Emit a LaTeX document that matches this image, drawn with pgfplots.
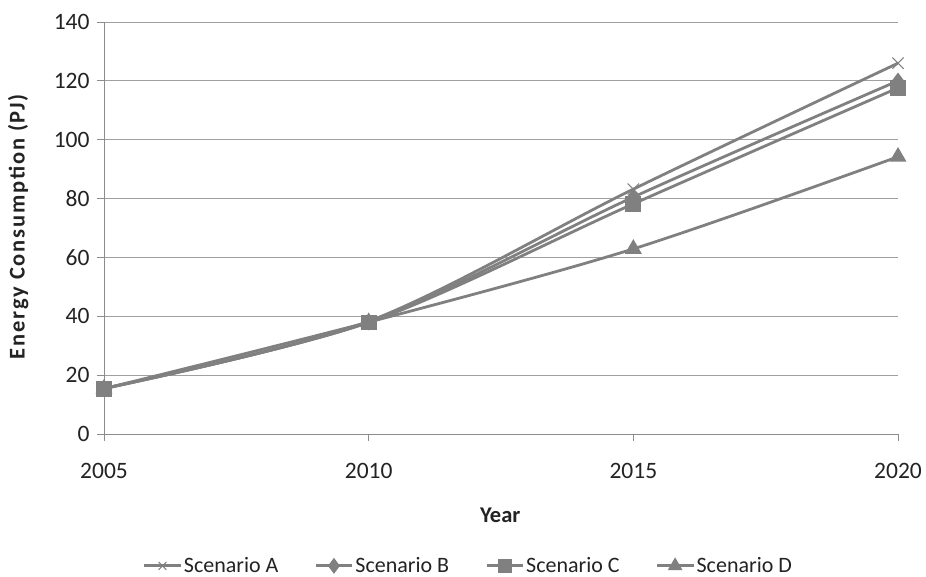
\documentclass[border=0pt]{standalone}
\usepackage{fontspec}
\setmainfont{Carlito}
\usepackage{pgfplots}
\pgfplotsset{compat=1.18}
\definecolor{series}{RGB}{128,128,128}
\definecolor{gridc}{RGB}{160,160,160}
\definecolor{axisc}{RGB}{140,140,140}
\definecolor{txt}{RGB}{35,35,35}
\pgfplotsset{
  scen/.style={color=series, line width=2.8pt, smooth, tension=0.5,
    mark options={solid, fill=series}},
}
\begin{document}
\begin{tikzpicture}
\path[use as bounding box] (0pt,0pt) rectangle (926pt,577pt);
\begin{axis}[
  at={(104pt,143pt)}, anchor=south west,
  scale only axis, width=794pt, height=412pt,
  xmin=2005, xmax=2020, ymin=0, ymax=140,
  xtick={2005,2010,2015,2020},
  ytick={0,20,40,60,80,100,120,140},
  axis x line=bottom, axis y line=left,
  axis line style={-, draw=axisc, line width=0.9pt},
  tick align=outside, major tick length=7pt,
  tick style={draw=axisc, line width=0.9pt},
  ymajorgrids, grid style={draw=gridc, line width=0.9pt},
  /pgf/number format/1000 sep={},
  /pgf/number format/assume math mode=true,
  ticklabel style={font=\fontsize{23.5}{27}\selectfont, text=txt},
  xticklabel style={yshift=-19pt},
  yticklabel style={xshift=-4pt},
  xlabel={\textbf{Year}},
  ylabel={\addfontfeature{LetterSpace=8}\textbf{Energy Consumption (PJ)}},
  label style={font=\fontsize{22.5}{26}\selectfont, text=txt},
  xlabel style={at={(axis description cs:0.499,-0.197)}, anchor=center},
  ylabel style={at={(axis description cs:-0.108,0.505)}, anchor=center},
  legend columns=4,
  legend style={at={(0.459,-0.32)}, anchor=center, draw=none, fill=none,
    font=\fontsize{22}{26}\selectfont, text=txt,
    /tikz/every even column/.append style={column sep=34pt},
    /tikz/every odd column/.append style={column sep=0pt}},
  legend cell align=left,
  legend image code/.code={%
    \draw[mark repeat=2, mark phase=2, #1, line width=3pt, mark size=5.5pt]
      plot coordinates {(0pt,0pt) (18pt,0pt) (36pt,0pt)};},
]
\addplot[scen, mark=x, mark size=8pt, mark options={line width=1pt}] coordinates {
  (2005,15.5) (2010,38.3) (2015,83.2) (2020,126.0)};
\addlegendentry{Scenario A}
\addplot[scen, mark=diamond*, mark size=6pt] coordinates {
  (2005,15.5) (2010,38.0) (2015,80.5) (2020,120.0)};
\addlegendentry{Scenario B}
\addplot[scen, mark=square*, mark size=6.5pt] coordinates {
  (2005,15.4) (2010,37.9) (2015,78.2) (2020,117.6)};
\addlegendentry{Scenario C}
\addplot[scen, mark=triangle*, mark size=7pt] coordinates {
  (2005,15.4) (2010,38.0) (2015,62.9) (2020,94.2)};
\addlegendentry{Scenario D}
\end{axis}
\end{tikzpicture}
\end{document}
